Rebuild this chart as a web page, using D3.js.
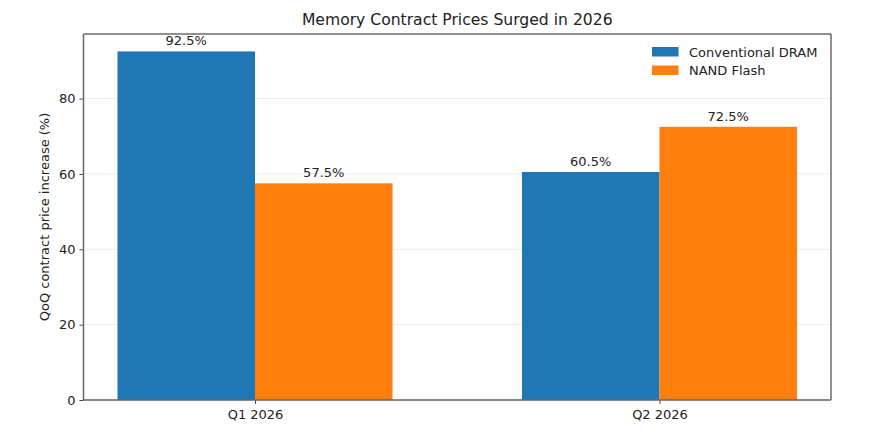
<!DOCTYPE html>
<html>
<head>
<meta charset="utf-8">
<script src="https://cdn.jsdelivr.net/npm/d3@7"></script>
<style>
body{margin:0;background:#fff;}
text{font-family:"DejaVu Sans",sans-serif;fill:#222;}
</style>
</head>
<body>
<svg id="chart" width="873" height="436"></svg>
<script>
// data
var quarters = ['Q1 2026', 'Q2 2026'];
var seriesNames = ['Conventional DRAM', 'NAND Flash'];
var dramValues = [92.5, 60.5];
var nandValues = [57.5, 72.5];
var yTicks = [0, 20, 40, 60, 80];
var colors = ['#1f77b4', '#ff7f0e'];

window.onload = initall;

function initall() {
	var svg = d3.select('#chart');
	var left = 83.5, right = 831, top = 34, bottom = 400;
	var bw = 0.34;

	var x = d3.scaleLinear().domain([-bw - 0.084, 1 + bw + 0.084]).range([left, right]);
	var y = d3.scaleLinear().domain([0, 92.5 * 1.05]).range([bottom, top]);

	//grid
	svg.append('g').selectAll('line').data(yTicks).enter().append('line')
		.attr('x1', left).attr('x2', right)
		.attr('y1', function(d){return y(d);}).attr('y2', function(d){return y(d);})
		.attr('stroke', '#ececec').attr('stroke-width', 1);

	var series = [dramValues, nandValues];
	for (var s = 0; s < series.length; s++) {
		var g = svg.append('g');
		var off = s == 0 ? -bw : 0;
		g.selectAll('rect').data(series[s]).enter().append('rect')
			.attr('x', function(d, i){return x(i + off);})
			.attr('width', function(d, i){return x(i + off + bw) - x(i + off);})
			.attr('y', function(d){return y(d);})
			.attr('height', function(d){return y(0) - y(d);})
			.attr('fill', colors[s]);
		g.selectAll('text').data(series[s]).enter().append('text')
			.attr('x', function(d, i){return x(i + off + bw / 2);})
			.attr('y', function(d){return y(d) - 6;})
			.attr('text-anchor', 'middle').attr('font-size', '13px')
			.text(function(d){return d.toFixed(1) + '%';});
	}

	//axes
	var yAxis = d3.axisLeft(y).tickValues(yTicks).tickSize(4).tickPadding(4);
	var yg = svg.append('g').attr('transform', 'translate(' + left + ',0)').call(yAxis);
	yg.select('.domain').remove();
	yg.selectAll('line').attr('stroke', '#444');
	yg.selectAll('text').attr('font-size', '13px').attr('font-family', '"DejaVu Sans",sans-serif').attr('fill', '#222');

	var xAxis = d3.axisBottom(x).tickValues([0, 1]).tickFormat(function(d){return quarters[d];}).tickSize(4).tickPadding(5.5);
	var xg = svg.append('g').attr('transform', 'translate(0,' + bottom + ')').call(xAxis);
	xg.select('.domain').remove();
	xg.selectAll('line').attr('stroke', '#444');
	xg.selectAll('text').attr('font-size', '13px').attr('font-family', '"DejaVu Sans",sans-serif').attr('fill', '#222');

	//spines
	svg.append('line').attr('x1', left).attr('x2', right).attr('y1', top).attr('y2', top).attr('stroke', '#222').attr('stroke-width', 1);
	svg.append('line').attr('x1', right).attr('x2', right).attr('y1', top).attr('y2', bottom).attr('stroke', '#222').attr('stroke-width', 1);
	svg.append('line').attr('x1', left).attr('x2', left).attr('y1', top).attr('y2', bottom).attr('stroke', '#666').attr('stroke-width', 1.5);
	svg.append('line').attr('x1', left).attr('x2', right).attr('y1', bottom).attr('y2', bottom).attr('stroke', '#666').attr('stroke-width', 1.5);

	//title + y label
	svg.append('text').attr('x', (left + right) / 2).attr('y', 25).attr('text-anchor', 'middle')
		.attr('font-size', '15.6px').text('Memory Contract Prices Surged in 2026');
	svg.append('text').attr('transform', 'translate(49,' + ((top + bottom) / 2) + ') rotate(-90)')
		.attr('text-anchor', 'middle').attr('font-size', '13px').text('QoQ contract price increase (%)');

	//legend
	var lg = svg.append('g').attr('transform', 'translate(652,47)');
	for (var k = 0; k < seriesNames.length; k++) {
		lg.append('rect').attr('x', 0).attr('y', k * 18.5).attr('width', 26.5).attr('height', 9.5).attr('fill', colors[k]);
		lg.append('text').attr('x', 37).attr('y', k * 18.5 + 9.8).attr('font-size', '13px').text(seriesNames[k]);
	}
}
</script>
</body>
</html>
